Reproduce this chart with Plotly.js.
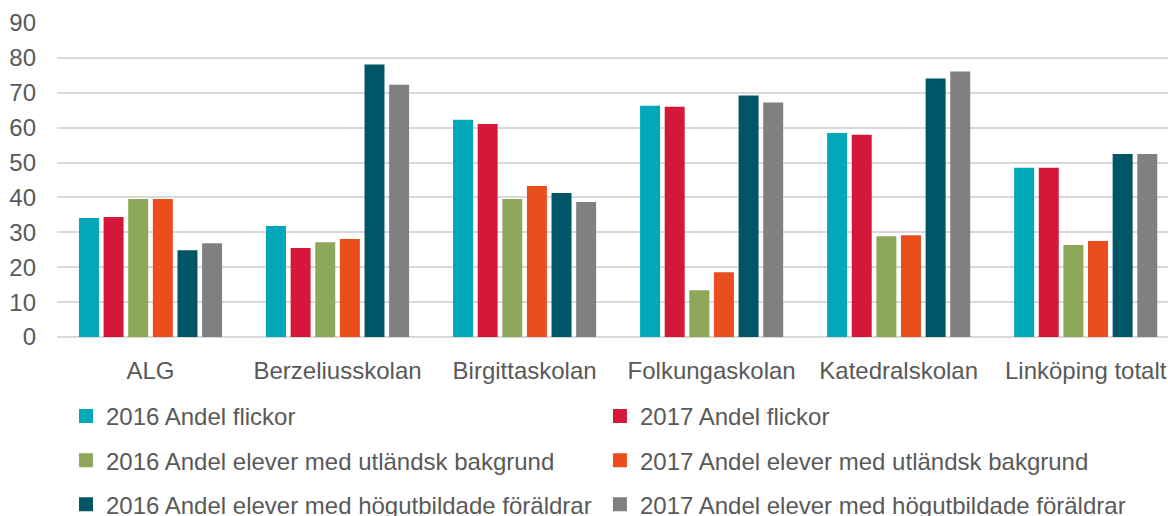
<!DOCTYPE html>
<html>
<head>
<meta charset="utf-8">
<script src="https://cdn.plot.ly/plotly-3.0.1.min.js"></script>
<style>html,body{margin:0;padding:0;background:#fff;}#chart{width:1168px;height:516px;}</style>
</head>
<body>
<div id="chart"></div>
<script>
const categories = ["ALG", "Berzeliusskolan", "Birgittaskolan", "Folkungaskolan", "Katedralskolan", "Linköping totalt"];
const seriesNames = [
  "2016 Andel flickor",
  "2017 Andel flickor",
  "2016 Andel elever med utländsk bakgrund",
  "2017 Andel elever med utländsk bakgrund",
  "2016 Andel elever med högutbildade föräldrar",
  "2017 Andel elever med högutbildade föräldrar"
];
const flickor2016 = [33.8, 31.5, 62.0, 66.0, 58.2, 48.2];
const flickor2017 = [34.1, 25.2, 60.8, 65.7, 57.7, 48.2];
const utlandsk2016 = [39.3, 26.9, 39.3, 13.1, 28.6, 26.1];
const utlandsk2017 = [39.3, 27.8, 43.0, 18.3, 28.9, 27.2];
const hogutb2016 = [24.6, 77.8, 41.0, 68.9, 73.8, 52.2];
const hogutb2017 = [26.6, 72.0, 38.4, 66.9, 75.8, 52.2];
const yTicks = [0, 10, 20, 30, 40, 50, 60, 70, 80, 90];

const seriesValues = [flickor2016, flickor2017, utlandsk2016, utlandsk2017, hogutb2016, hogutb2017];
const colors = ["#00A8B9", "#D5183A", "#8DA85A", "#E94E1C", "#005566", "#808080"];

const traces = seriesValues.map((vals, i) => ({
  type: "bar",
  x: categories,
  y: vals,
  name: seriesNames[i],
  legend: (i % 2 === 0) ? "legend" : "legend2",
  legendgroup: "g" + i,
  marker: {color: colors[i], line: {width: 2, color: colors[i]}},
  hoverinfo: "x+y"
}));

const legendCommon = {
  orientation: "v",
  xanchor: "left",
  yanchor: "top",
  y: -0.181,
  tracegroupgap: 10,
  font: {size: 24, color: "#595959"},
  bgcolor: "rgba(0,0,0,0)",
  borderwidth: 0
};

const layout = {
  width: 1168,
  height: 516,
  margin: {l: 57, r: 0, t: 23, b: 179, autoexpand: false},
  paper_bgcolor: "#ffffff",
  plot_bgcolor: "#ffffff",
  font: {family: "Liberation Sans, Arial, sans-serif", size: 24, color: "#595959"},
  barmode: "group",
  bargap: 0.21,
  bargroupgap: 0.27,
  xaxis: {
    type: "category",
    range: [-0.5, 5.44],
    showgrid: false,
    showline: false,
    zeroline: false,
    ticks: "",
    ticklabelstandoff: 17,
    tickfont: {size: 24, color: "#595959"}
  },
  yaxis: {
    range: [0, 90],
    tickvals: yTicks,
    ticktext: yTicks.map(String),
    showgrid: true,
    gridcolor: "#d9d9d9",
    gridwidth: 2,
    zeroline: true,
    zerolinecolor: "#d9d9d9",
    zerolinewidth: 2,
    showline: false,
    ticks: "",
    ticklabelstandoff: 20,
    tickfont: {size: 24, color: "#595959"}
  },
  showlegend: true,
  legend: Object.assign({}, legendCommon, {x: 0.0081}),
  legend2: Object.assign({}, legendCommon, {x: 0.4887})
};

Plotly.newPlot("chart", traces, layout, {displayModeBar: false, staticPlot: true});
</script>
</body>
</html>
